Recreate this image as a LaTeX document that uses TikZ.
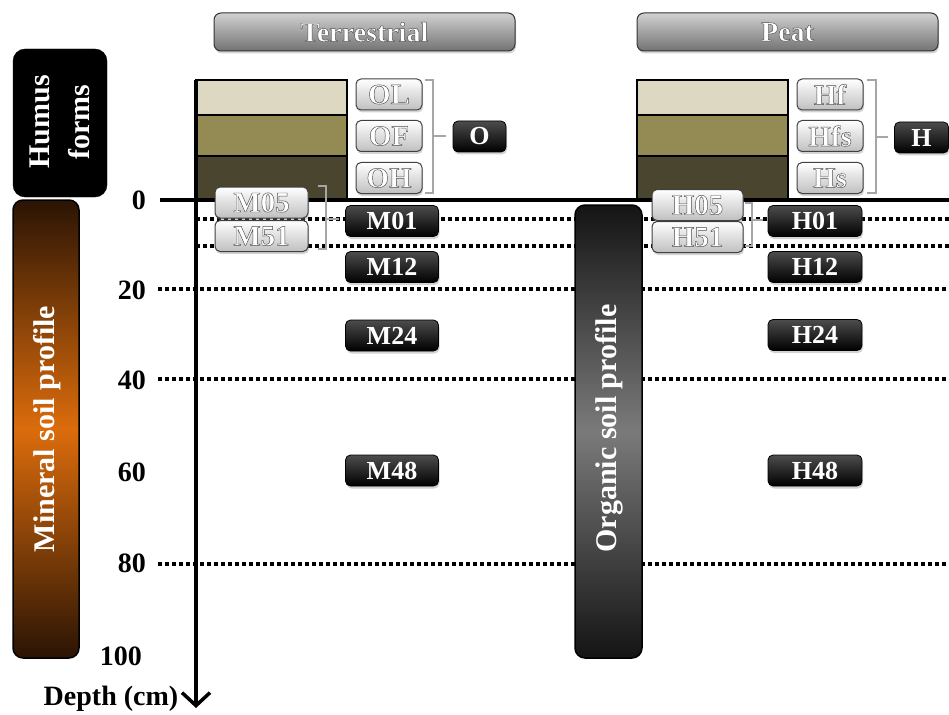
\documentclass[tikz,border=0pt]{standalone}
\usepackage{fontspec}
\setmainfont{Liberation Serif}
\usetikzlibrary{shadows,arrows.meta}
\definecolor{layA}{HTML}{DDD8C2}
\definecolor{layB}{HTML}{948A54}
\definecolor{layC}{HTML}{4A452F}
\definecolor{brk}{HTML}{A6A6A6}
\definecolor{minmid}{HTML}{DC6C0C}
\definecolor{mindark}{HTML}{2A1404}
\definecolor{orgmid}{HTML}{7A7A7A}
\definecolor{orgdark}{HTML}{141414}
\newcommand\embt[1]{\special{pdf:literal direct 2 Tr 0.45 w 1 j 0.3 0.3 0.3 RG}#1\special{pdf:literal direct 0 Tr}}
\begin{document}
\begin{tikzpicture}[x=1pt,y=-1pt,
  every node/.style={inner sep=0pt},
  shad/.style={drop shadow={shadow xshift=1pt,shadow yshift=-2.5pt,opacity=0.35}},
  titlebox/.style={shad,rounded corners=7pt,draw=black!80,line width=1pt,
     top color=black!18,bottom color=black!55,minimum width=301pt,minimum height=38pt,
     text=white,font=\bfseries\fontsize{28}{30}\selectfont},
  graylab/.style={shad,rounded corners=5pt,draw=black!75,line width=1pt,
     top color=white,bottom color=black!25,text=white,minimum height=31pt,
     font=\bfseries\fontsize{29}{30}\selectfont},
  blacklab/.style={shad,rounded corners=5pt,draw=black,line width=0.8pt,
     top color=black!70,bottom color=black,text=white,minimum height=31pt,
     font=\bfseries\fontsize{26}{27}\selectfont},
  layer/.style={draw=black,line width=2.5pt,minimum width=151pt},
  bar/.style={rounded corners=10pt,draw=black,line width=1.5pt},
  bartext/.style={rotate=90,text=white,font=\bfseries\fontsize{30}{32}\selectfont},
  depth/.style={anchor=east,font=\bfseries\fontsize{28}{30}\selectfont},
  dotline/.style={line width=3.5pt,dash pattern=on 3.5pt off 3.5pt},
  bracket/.style={draw=brk,line width=2.5pt}
]
\useasboundingbox (0,0) rectangle (949,714);

% dotted depth lines
\coordinate (d5a) at (196,219);  \coordinate (d5b) at (949,219);
\coordinate (d10a) at (196,246); \coordinate (d10b) at (949,246);
\coordinate (d20a) at (158,289); \coordinate (d20b) at (949,289);
\coordinate (d40a) at (158,379); \coordinate (d40b) at (949,379);
\coordinate (d80a) at (158,564); \coordinate (d80b) at (949,564);
\draw[dotline] (d5a) -- (d5b);
\draw[dotline] (d10a) -- (d10b);
\draw[dotline] (d20a) -- (d20b);
\draw[dotline] (d40a) -- (d40b);
\draw[dotline] (d80a) -- (d80b);

% side bars
\node[draw=black,fill=black,rounded corners=12pt,minimum width=94pt,minimum height=148pt] (humusbox) at (60,123) {};
\node[rotate=90,text=white,align=center,font=\bfseries\fontsize{30}{40}\selectfont] (humustext) at (60,122) {Humus\\forms};
\node[bar,minimum width=66pt,minimum height=458pt,top color=mindark,bottom color=mindark,middle color=minmid] (minbar) at (46,429) {};
\node[bartext] (mintext) at (47,429) {Mineral soil profile};
\node[bar,minimum width=67pt,minimum height=453pt,top color=orgdark,bottom color=orgdark,middle color=orgmid] (orgbar) at (608.5,431.5) {};
\node[bartext] (orgtext) at (609,428.5) {Organic soil profile};

% titles
\node[titlebox] (terr) at (364.5,32) {\embt{Terrestrial}};
\node[titlebox] (peat) at (787.5,32) {\embt{Peat}};

% humus layer stacks
\node[layer,fill=layA,minimum height=35pt] (tL1) at (271.5,97.5) {};
\node[layer,fill=layB,minimum height=41pt] (tL2) at (271.5,135.5) {};
\node[layer,fill=layC,minimum height=44pt] (tL3) at (271.5,178) {};
\node[layer,fill=layA,minimum height=35pt] (pL1) at (712.5,97.5) {};
\node[layer,fill=layB,minimum height=41pt] (pL2) at (712.5,135.5) {};
\node[layer,fill=layC,minimum height=44pt] (pL3) at (712.5,178) {};

% zero line and axis
\coordinate (z0) at (160,200); \coordinate (z1) at (949,200);
\draw[line width=4pt] (z0) -- (z1);
\coordinate (ax0) at (196,80); \coordinate (ax1) at (196,708);
\draw[line width=3.5pt,-{Straight Barb[length=13pt,width=28pt,line width=3.5pt]}] (ax0) -- (ax1);

% depth labels
\node[depth] (n0) at (146,200) {0};
\node[depth] (n20) at (146,290) {20};
\node[depth] (n40) at (146,380) {40};
\node[depth] (n60) at (146,472) {60};
\node[depth] (n80) at (146,563) {80};
\node[depth] (n100) at (142,656) {100};
\node[font=\bfseries\fontsize{28}{30}\selectfont] (depthlab) at (111,699) {Depth (cm)};

% gray labels terrestrial
\node[graylab,minimum width=66pt] (OL) at (389,94.5) {\embt{OL}};
\node[graylab,minimum width=66pt] (OF) at (389,136) {\embt{OF}};
\node[graylab,minimum width=66pt] (OH) at (389,178) {\embt{OH}};
\node[blacklab,minimum width=53pt] (O) at (479.5,136.5) {O};
% gray labels peat
\node[graylab,minimum width=66pt] (Hf) at (830,94.5) {\embt{Hf}};
\node[graylab,minimum width=66pt] (Hfs) at (830,136) {\embt{Hfs}};
\node[graylab,minimum width=66pt] (Hs) at (830,178) {\embt{Hs}};
\node[blacklab,minimum width=54pt] (H) at (921.5,137.5) {H};

% mineral labels
\node[graylab,minimum width=93pt] (M05) at (261.5,202.5) {\embt{M05}};
\node[graylab,minimum width=93pt] (M51) at (261.5,236) {\embt{M51}};
\node[blacklab,minimum width=93pt] (M01) at (392,221) {M01};
\node[blacklab,minimum width=93pt] (M12) at (392,267) {M12};
\node[blacklab,minimum width=93pt] (M24) at (392,335.5) {M24};
\node[blacklab,minimum width=93pt] (M48) at (392,470.5) {M48};
% peat labels
\node[graylab,minimum width=91pt] (H05) at (697.5,205) {\embt{H05}};
\node[graylab,minimum width=91pt] (H51) at (697.5,237) {\embt{H51}};
\node[blacklab,minimum width=94pt] (H01) at (815,221) {H01};
\node[blacklab,minimum width=94pt] (H12) at (815,267) {H12};
\node[blacklab,minimum width=94pt] (H24) at (815,335) {H24};
\node[blacklab,minimum width=94pt] (H48) at (815,470.5) {H48};

% brackets
\coordinate (bo1) at (425,80); \coordinate (bo2) at (433,80); \coordinate (bo3) at (433,193); \coordinate (bo4) at (425,193);
\coordinate (bom) at (433,136); \coordinate (bot) at (446,136);
\draw[bracket] (bo1) -- (bo2) -- (bo3) -- (bo4);
\draw[bracket] (bom) -- (bot);
\coordinate (bh1) at (867,80); \coordinate (bh2) at (876,80); \coordinate (bh3) at (876,193); \coordinate (bh4) at (867,193);
\coordinate (bhm) at (876,137); \coordinate (bht) at (888,137);
\draw[bracket] (bh1) -- (bh2) -- (bh3) -- (bh4);
\draw[bracket] (bhm) -- (bht);
\coordinate (bm1) at (318,186); \coordinate (bm2) at (326,186); \coordinate (bm3) at (326,249); \coordinate (bm4) at (318,249);
\coordinate (bmm) at (326,219); \coordinate (bmt) at (339,219);
\draw[bracket] (bm1) -- (bm2) -- (bm3) -- (bm4);
\draw[bracket] (bmm) -- (bmt);
\coordinate (bs1) at (745,203); \coordinate (bs2) at (752,203); \coordinate (bs3) at (752,246); \coordinate (bs4) at (745,246);
\coordinate (bsm) at (752,220); \coordinate (bst) at (763,220);
\draw[bracket] (bs1) -- (bs2) -- (bs3) -- (bs4);
\draw[bracket] (bsm) -- (bst);
\end{tikzpicture}
\end{document}
